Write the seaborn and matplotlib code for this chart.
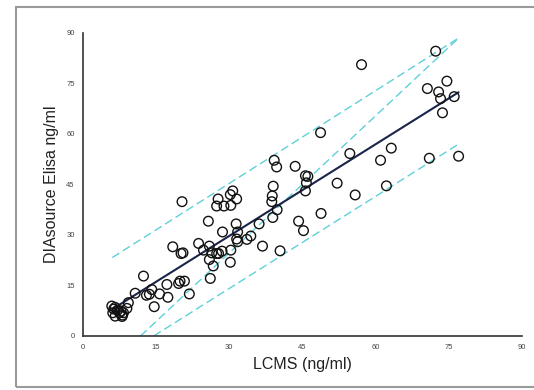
import matplotlib
matplotlib.use("Agg")
import matplotlib.pyplot as plt
import seaborn as sns
import pandas as pd
from matplotlib.patches import Rectangle

lcms = [5.9, 6.1, 6.6, 7.1, 7.5, 8.1, 8.3, 6.6, 9.0, 9.3, 6.3, 7.8, 8.0,
        10.7, 12.4, 13.0, 13.6, 14.1, 14.6, 15.7, 17.2, 17.4, 18.4, 19.6, 19.9,
        20.3, 20.1, 20.5, 20.8, 21.8, 23.7, 24.7, 25.7, 25.9, 25.9, 26.1, 26.4,
        26.7, 27.4, 27.7, 27.4, 27.8, 28.5, 28.6, 28.9, 30.2, 30.3, 30.7, 30.3,
        30.2, 31.5, 31.4, 31.7, 31.5, 31.7, 33.6, 34.4, 36.1, 36.8, 39.2, 39.7,
        39.0, 38.8, 38.7, 38.9, 39.8, 40.4, 43.5, 44.2, 45.2, 45.6, 46.1, 45.8,
        45.6, 48.7, 48.8, 52.1, 54.7, 55.8, 57.1, 61.0, 62.2, 63.2, 70.6, 71.0,
        72.3, 72.9, 73.3, 73.7, 74.6, 76.1, 77.0]
elisa = [8.9, 6.9, 5.9, 7.7, 6.9, 6.2, 6.9, 8.5, 8.2, 9.9, 8.0, 7.4, 5.8,
         12.7, 17.8, 12.1, 12.4, 13.8, 8.7, 12.5, 15.3, 11.5, 26.5, 15.6, 16.3,
         39.9, 24.5, 24.7, 16.3, 12.5, 27.5, 25.5, 34.1, 26.7, 22.7, 17.1, 24.7,
         20.8, 38.6, 40.7, 24.5, 24.5, 25.2, 30.9, 38.6, 42.0, 38.8, 43.1, 25.5,
         21.9, 40.7, 33.3, 30.9, 28.8, 28.0, 28.7, 29.7, 33.3, 26.7, 52.2, 50.2,
         44.5, 41.6, 39.9, 35.2, 37.5, 25.3, 50.4, 34.1, 31.3, 47.6, 47.4, 45.5,
         43.1, 60.4, 36.4, 45.4, 54.2, 41.9, 80.6, 52.2, 44.6, 55.8, 73.5, 52.8,
         84.6, 72.5, 70.5, 66.3, 75.7, 71.1, 53.4]

fit_x = [6, 77]
fit_y = [7.95, 72.4]
upper_x = [6, 77]
upper_y = [23.3, 88.5]
lower_x = [14.5, 77]
lower_y = [0, 57]
steep_x = [11.8, 77]
steep_y = [0, 88.5]

ticks = [0, 15, 30, 45, 60, 75, 90]

sns.set_style("white")
plt.rcParams['font.family'] = ['Liberation Sans', 'DejaVu Sans']

fig = plt.figure(figsize=(5.34, 3.90), dpi=100)
ax = fig.add_axes([83/534, 54/390, 439/534, 303/390])

df = pd.DataFrame({"LCMS": lcms, "Elisa": elisa})
cyan = "#5fd0d8"
for xs, ys in [(upper_x, upper_y), (lower_x, lower_y), (steep_x, steep_y)]:
    sns.lineplot(x=xs, y=ys, ax=ax, color=cyan, lw=1.0, linestyle=(0, (6, 3)), zorder=2)
sns.lineplot(x=fit_x, y=fit_y, ax=ax, color="#1a2348", lw=1.5, zorder=3)
sns.scatterplot(data=df, x="LCMS", y="Elisa", ax=ax, marker="o", s=48,
                facecolor="none", edgecolor="#111111", linewidth=1.0, zorder=4)

ax.set_xlim(0, 90)
ax.set_ylim(0, 90)
ax.set_xticks(ticks)
ax.set_yticks(ticks)
ax.tick_params(axis='both', labelsize=5.5, labelcolor="#444444", length=3,
               width=1, color="#333333", direction="out", pad=3)
for s in ["top", "right"]:
    ax.spines[s].set_visible(False)
for s in ["left", "bottom"]:
    ax.spines[s].set_color("#333333")
    ax.spines[s].set_linewidth(1.2)
ax.set_xlabel("LCMS (ng/ml)", fontsize=11.5, color="#222222", labelpad=4)
ax.set_ylabel("DIAsource Elisa ng/ml", fontsize=11.5, color="#222222", labelpad=5)

fig.patches.append(Rectangle((16/534, 3/390), 1.2, 380/390, transform=fig.transFigure,
                             fill=False, edgecolor="#9a9a9a", lw=1.5))

fig.savefig("out.png", dpi=100)
